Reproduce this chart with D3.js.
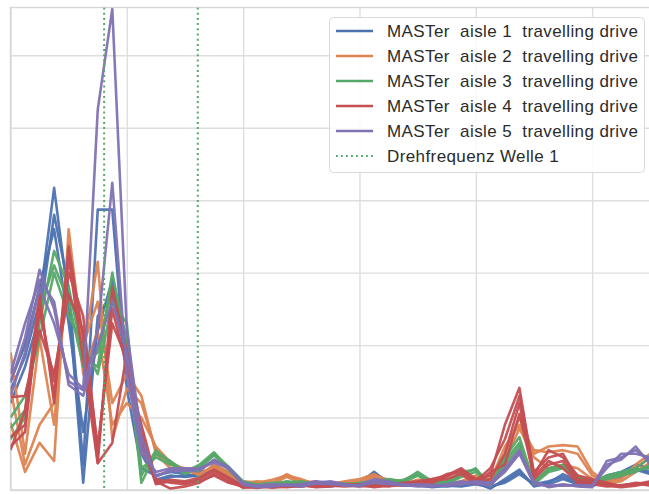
<!DOCTYPE html>
<html>
<head>
<meta charset="utf-8">
<script src="https://cdn.jsdelivr.net/npm/d3@7"></script>
<style>
  html, body { margin: 0; padding: 0; background: #ffffff; }
  svg { display: block; }
  text { font-family: "Liberation Sans", Arial, sans-serif; }
</style>
</head>
<body>
<div id="chart"></div>
<script>
// ---------- data ----------
const binWidth = 1.25; // Hz per spectral bin
const xTicks = [0, 10, 20, 30, 40, 50];
const yTicks = [0, 1, 2, 3, 4, 5, 6];
const seriesNames = [
  "MASTer  aisle 1  travelling drive",
  "MASTer  aisle 2  travelling drive",
  "MASTer  aisle 3  travelling drive",
  "MASTer  aisle 4  travelling drive",
  "MASTer  aisle 5  travelling drive"
];
const seriesColors = ["#4C72B0", "#DD8452", "#55A868", "#C44E52", "#8172B3"];
const shaftLabel = "Drehfrequenz Welle 1";
const shaftFreqs = [8.05, 16.1];

const aisle1Runs = [
  [1.38,1.84,2.6,4.17,2.6,0.1,2.4,2.7,1.8,0.5,0.14,0.2,0.18,0.2,0.3,0.2,0.08,0.05,0.06,0.08,0.07,0.05,0.06,0.1,0.08,0.22,0.12,0.08,0.06,0.05,0.07,0.06,0.1,0.02,0.15,0.28,0.05,0.1,0.22,0.12,0.05,0.15,0.2,0.3,0.25],
  [1.2,1.7,2.4,3.8,2.8,0.35,3.87,3.87,1.4,0.3,0.2,0.25,0.22,0.18,0.35,0.22,0.1,0.06,0.05,0.07,0.09,0.06,0.05,0.08,0.1,0.25,0.1,0.06,0.08,0.06,0.05,0.08,0.12,0.05,0.1,0.22,0.08,0.12,0.18,0.1,0.08,0.2,0.25,0.35,0.3],
  [1.5,2.0,2.8,3.6,2.3,0.8,2.2,2.9,1.9,0.7,0.1,0.18,0.2,0.22,0.28,0.18,0.06,0.04,0.07,0.06,0.05,0.08,0.07,0.06,0.09,0.2,0.08,0.1,0.07,0.04,0.06,0.05,0.08,0.04,0.12,0.25,0.06,0.08,0.15,0.08,0.06,0.12,0.18,0.28,0.22]
];
const aisle2Runs = [
  [0.93,0.25,0.65,0.4,3.6,1.9,3.15,0.7,1.4,1.2,0.55,0.35,0.3,0.2,0.35,0.25,0.1,0.12,0.1,0.22,0.12,0.1,0.08,0.12,0.15,0.22,0.12,0.1,0.1,0.12,0.08,0.12,0.2,0.15,0.5,1.0,0.5,0.6,0.62,0.6,0.25,0.1,0.15,0.35,0.5],
  [1.9,0.5,2.1,0.9,3.3,2.0,2.6,1.2,1.6,1.3,0.5,0.3,0.25,0.25,0.3,0.2,0.12,0.1,0.14,0.2,0.15,0.08,0.1,0.1,0.12,0.18,0.1,0.08,0.14,0.15,0.1,0.1,0.18,0.12,0.6,0.9,0.55,0.52,0.55,0.5,0.2,0.12,0.2,0.3,0.45],
  [1.4,0.35,0.9,1.2,3.4,1.6,2.2,0.9,1.2,1.0,0.6,0.38,0.28,0.22,0.32,0.22,0.08,0.1,0.08,0.18,0.1,0.12,0.06,0.08,0.1,0.2,0.14,0.12,0.08,0.1,0.12,0.08,0.15,0.1,0.4,0.85,0.45,0.3,0.35,0.3,0.15,0.08,0.12,0.25,0.38]
];
const aisle3Runs = [
  [0.85,1.1,2.3,3.3,2.8,1.84,1.7,3.0,2.0,0.1,0.5,0.4,0.25,0.35,0.52,0.3,0.1,0.08,0.1,0.1,0.12,0.08,0.1,0.07,0.1,0.12,0.15,0.12,0.25,0.12,0.1,0.2,0.3,0.05,0.45,0.73,0.1,0.3,0.35,0.2,0.1,0.2,0.25,0.3,0.45],
  [1.0,1.3,2.1,3.0,2.4,2.0,1.6,2.6,2.3,0.3,0.45,0.35,0.28,0.3,0.48,0.28,0.08,0.06,0.08,0.12,0.1,0.1,0.08,0.09,0.08,0.1,0.12,0.1,0.2,0.1,0.12,0.25,0.28,0.08,0.4,0.65,0.08,0.25,0.3,0.15,0.08,0.15,0.2,0.25,0.35],
  [0.7,1.0,2.5,3.1,2.6,1.7,1.9,2.8,2.1,0.2,0.55,0.38,0.22,0.32,0.5,0.32,0.12,0.07,0.06,0.09,0.08,0.06,0.09,0.08,0.07,0.08,0.1,0.14,0.22,0.08,0.09,0.18,0.25,0.06,0.35,0.6,0.12,0.28,0.32,0.18,0.12,0.18,0.22,0.28,0.3]
];
const aisle4Runs = [
  [0.55,1.1,2.7,1.2,3.36,2.1,0.37,2.8,1.93,0.8,0.1,0.14,0.12,0.17,0.28,0.17,0.05,0.04,0.06,0.05,0.08,0.07,0.1,0.06,0.08,0.05,0.07,0.1,0.12,0.15,0.2,0.3,0.15,0.2,0.9,1.41,0.2,0.55,0.45,0.2,0.15,0.1,0.05,0.08,0.12],
  [0.73,0.9,2.5,1.5,3.0,2.4,0.5,2.5,1.7,0.9,0.15,0.1,0.08,0.15,0.25,0.15,0.03,0.05,0.04,0.06,0.05,0.08,0.06,0.05,0.06,0.07,0.05,0.08,0.1,0.12,0.22,0.25,0.12,0.3,0.7,1.3,0.25,0.45,0.5,0.15,0.12,0.08,0.06,0.1,0.08],
  [1.28,1.3,2.2,1.6,2.7,2.2,0.6,2.3,1.8,0.6,0.12,0.02,0.05,0.1,0.22,0.12,0.04,0.03,0.05,0.04,0.06,0.05,0.08,0.07,0.05,0.06,0.08,0.06,0.08,0.1,0.18,0.28,0.1,0.15,0.5,1.2,0.15,0.35,0.4,0.12,0.1,0.06,0.04,0.06,0.1],
  [0.6,0.8,2.6,1.3,3.2,1.8,0.37,0.65,1.9,0.7,0.08,0.12,0.1,0.12,0.2,0.1,0.05,0.06,0.03,0.05,0.07,0.04,0.05,0.08,0.07,0.04,0.06,0.07,0.09,0.14,0.15,0.22,0.08,0.25,0.35,1.05,0.18,0.4,0.3,0.1,0.08,0.05,0.07,0.09,0.06]
];
const aisle5Runs = [
  [1.48,2.1,3.04,2.5,1.5,1.38,5.25,6.64,2.2,0.73,0.18,0.28,0.28,0.28,0.41,0.32,0.1,0.05,0.06,0.08,0.06,0.1,0.12,0.08,0.05,0.12,0.1,0.08,0.06,0.05,0.07,0.1,0.12,0.1,0.3,0.55,0.1,0.05,0.08,0.05,0.04,0.4,0.45,0.55,0.4],
  [1.3,1.9,2.8,2.3,1.6,1.4,2.2,4.24,1.6,0.5,0.25,0.3,0.3,0.3,0.38,0.3,0.08,0.06,0.08,0.06,0.08,0.12,0.1,0.06,0.07,0.15,0.12,0.06,0.08,0.07,0.06,0.08,0.1,0.08,0.25,0.5,0.08,0.06,0.06,0.07,0.06,0.3,0.5,0.5,0.45],
  [1.6,2.3,2.9,2.6,1.45,1.3,2.0,2.6,1.9,0.6,0.2,0.26,0.27,0.26,0.42,0.3,0.07,0.04,0.05,0.07,0.05,0.09,0.08,0.07,0.06,0.1,0.08,0.07,0.05,0.06,0.08,0.12,0.09,0.06,0.28,0.52,0.12,0.04,0.07,0.06,0.05,0.35,0.42,0.6,0.35]
];
const allAisles = [aisle1Runs, aisle2Runs, aisle3Runs, aisle4Runs, aisle5Runs];

// ---------- layout ----------
const W = 649, H = 494;
const plot = { left: 10.5, right: 650.3, top: 7.5, bottom: 490 };

const svg = d3.select("#chart").append("svg")
  .attr("width", W).attr("height", H)
  .attr("viewBox", `0 0 ${W} ${H}`);

const x = d3.scaleLinear().domain([0, 55]).range([plot.left, plot.right]);
const y = d3.scaleLinear().domain([0, 6.66]).range([plot.bottom, plot.top]);

svg.append("defs").append("clipPath").attr("id", "plotClip")
  .append("rect")
  .attr("x", plot.left).attr("y", plot.top)
  .attr("width", plot.right - plot.left).attr("height", plot.bottom - plot.top);

// grid via axes
const gridColor = "#dedede";
const xGrid = svg.append("g")
  .attr("transform", `translate(0,${plot.bottom})`)
  .call(d3.axisBottom(x).tickValues(xTicks).tickSize(-(plot.bottom - plot.top)).tickFormat(""));
const yGrid = svg.append("g")
  .attr("transform", `translate(${plot.left},0)`)
  .call(d3.axisLeft(y).tickValues(yTicks).tickSize(-(plot.right - plot.left)).tickFormat(""));
[xGrid, yGrid].forEach(g => {
  g.select(".domain").remove();
  g.selectAll(".tick line").attr("stroke", gridColor).attr("stroke-width", 1.4);
});

// spines
svg.append("rect")
  .attr("x", plot.left).attr("y", plot.top)
  .attr("width", plot.right - plot.left + 5).attr("height", plot.bottom - plot.top)
  .attr("fill", "none").attr("stroke", "#d6d6d6").attr("stroke-width", 1.4);

// lines
const line = d3.line()
  .x((d, i) => x(i * binWidth))
  .y(d => y(d));

const linesG = svg.append("g").attr("clip-path", "url(#plotClip)");
allAisles.forEach((runs, k) => {
  runs.forEach(run => {
    linesG.append("path")
      .datum(run)
      .attr("d", line)
      .attr("fill", "none")
      .attr("stroke", seriesColors[k])
      .attr("stroke-width", 2.6)
      .attr("stroke-linejoin", "round")
      .attr("opacity", 0.95);
  });
});

// shaft rotation frequency lines
shaftFreqs.forEach(f => {
  linesG.append("line")
    .attr("x1", x(f)).attr("x2", x(f))
    .attr("y1", plot.top).attr("y2", plot.bottom + 10)
    .attr("stroke", "#55A868")
    .attr("stroke-width", 2)
    .attr("stroke-dasharray", "2,3.2");
});

// legend
const lg = svg.append("g");
lg.append("rect")
  .attr("x", 329.5).attr("y", 17.5)
  .attr("width", 315).attr("height", 155)
  .attr("rx", 4)
  .attr("fill", "#ffffff").attr("fill-opacity", 0.85)
  .attr("stroke", "#d9d9d9").attr("stroke-width", 1);

const legendItems = seriesNames.map((n, i) => ({ label: n, color: seriesColors[i], dotted: false }))
  .concat([{ label: shaftLabel, color: "#55A868", dotted: true }]);

legendItems.forEach((d, i) => {
  const cy = 31 + i * 25;
  lg.append("line")
    .attr("x1", 336).attr("x2", 373)
    .attr("y1", cy).attr("y2", cy)
    .attr("stroke", d.color)
    .attr("stroke-width", d.dotted ? 1.8 : 2.6)
    .attr("stroke-dasharray", d.dotted ? "1.8,3.2" : null);
  lg.append("text")
    .attr("x", 387).attr("y", cy + 6)
    .attr("font-size", 17)
    .attr("letter-spacing", 0.4)
    .attr("fill", "#2b2b2b")
    .style("white-space", "pre")
    .attr("xml:space", "preserve")
    .text(d.label);
});
</script>
</body>
</html>
